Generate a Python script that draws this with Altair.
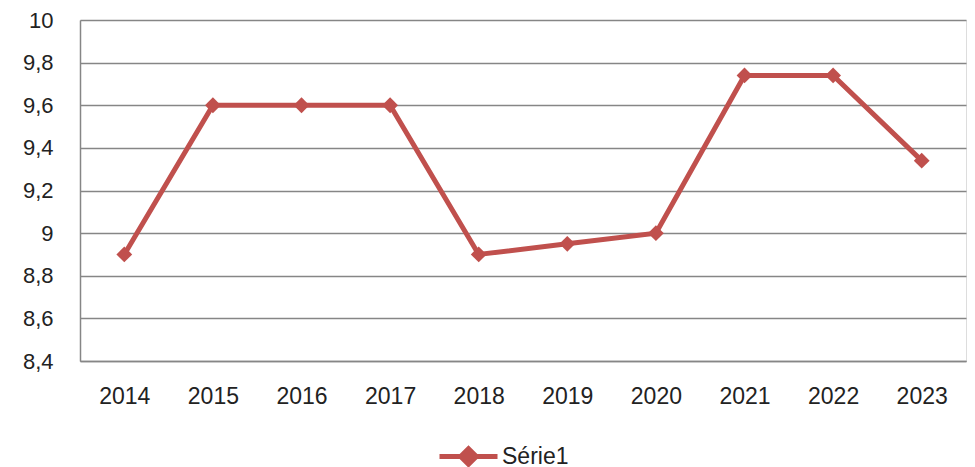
import altair as alt
import pandas as pd

years = ["2014", "2015", "2016", "2017", "2018", "2019", "2020", "2021", "2022", "2023"]
values = [8.9, 9.6, 9.6, 9.6, 8.9, 8.95, 9.0, 9.74, 9.74, 9.34]
series = ["Série1"] * len(years)

df = pd.DataFrame({"year": years, "value": values, "series": series})

RED = "#C0504D"
GRID = "#868686"
FONT = "Liberation Sans"
FS = 22

legend_path = "M-1,0L1,0M0,-0.27L0.27,0L0,0.27L-0.27,0Z"

base = alt.Chart(df).encode(
    x=alt.X("year:N", sort=years, title=None,
            scale=alt.Scale(paddingInner=0, paddingOuter=0.5),
            axis=alt.Axis(labelAngle=0, ticks=False, labelPadding=24, domainColor=GRID,
                          domainWidth=1.5, labelFontSize=FS + 1, labelFont=FONT, labelColor="#222")),
    y=alt.Y("value:Q", title=None,
            scale=alt.Scale(domain=[8.4, 10], nice=False, zero=False),
            axis=alt.Axis(values=[8.4, 8.6, 8.8, 9.0, 9.2, 9.4, 9.6, 9.8, 10.0],
                          labelExpr="replace(format(datum.value, '.1~f'), '.', ',')",
                          ticks=False, labelPadding=27, grid=True, gridColor=GRID, gridWidth=1.5,
                          domainColor=GRID, domainWidth=1.5, labelFontSize=FS, labelFont=FONT,
                          labelColor="#222")),
    color=alt.Color("series:N", title=None,
                    scale=alt.Scale(range=[RED]),
                    legend=alt.Legend(orient="none", legendX=357, legendY=405,
                                      symbolType=legend_path, symbolSize=3364,
                                      symbolStrokeWidth=5, symbolFillColor=RED,
                                      labelFontSize=FS + 1, labelFont=FONT, labelColor="#222",
                                      labelOffset=2)),
)

line = base.mark_line(strokeWidth=5)
points = base.mark_point(shape="diamond", filled=True, size=250, opacity=1)

chart = (line + points).properties(
    width=886, height=341,
    autosize=alt.AutoSizeParams(type="none"),
    padding={"left": 72, "top": 12, "right": 1, "bottom": 130},
).configure_view(stroke=None).configure(background="white")

chart.save("out.html", embed_options={"renderer": "svg", "actions": False})
